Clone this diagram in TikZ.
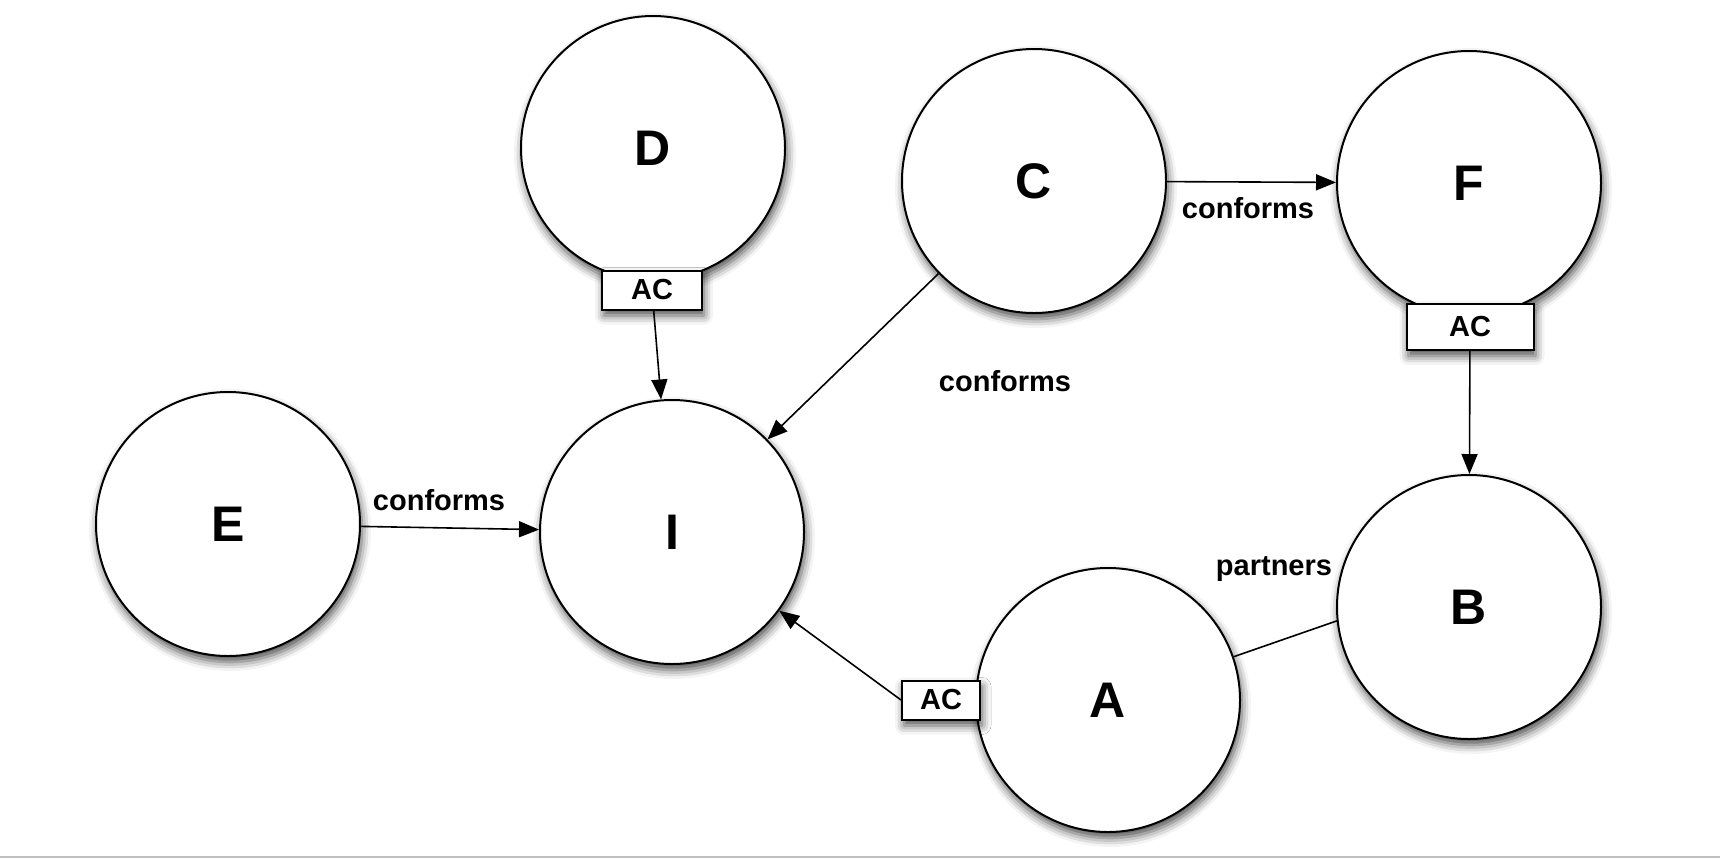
\documentclass[tikz,border=0pt]{standalone}
\usepackage{fontspec}
\setmainfont{Liberation Sans}
\usetikzlibrary{arrows.meta, shadows.blur}
\tikzset{
    party/.style={draw, circle, fill=white, line width=1pt, minimum size=132pt, inner sep=0pt,
        font=\bfseries\fontsize{25}{30}\selectfont,
        blur shadow={shadow xshift=1pt, shadow yshift=-3pt, shadow blur radius=4.5pt, shadow opacity=70}},
    acbox/.style={draw, rectangle, fill=white, line width=1pt, minimum height=19.5pt, inner sep=0pt,
        font=\bfseries\fontsize{14.5}{17}\selectfont,
        blur shadow={shadow xshift=1pt, shadow yshift=-3pt, shadow blur radius=4.5pt, shadow opacity=70}},
    conn/.style={-{Triangle[length=10pt, width=8pt]}, line width=0.8pt},
    lbl/.style={font=\bfseries\fontsize{14.5}{17}\selectfont}
}
\begin{document}
\begin{tikzpicture}[x=0.5pt, y=-0.5pt]
    \useasboundingbox (0,0) rectangle (1720,858);
    % bottom rule
    \draw[gray!50, line width=1pt] (0,857) -- (1720,857);
    % parties
    \node[party] (D) at (653,148) {D};
    \node[party] (C) at (1034,181) {C};
    \node[party] (F) at (1469,183) {F};
    \node[party] (E) at (228,524) {E};
    \node[party] (I) at (672,532) {I};
    \node[party] (B) at (1469,607) {B};
    \node[party] (A) at (1108,700) {A};
    % access points
    \node[acbox, minimum width=50pt] (acD) at (652,290) {AC};
    \node[acbox, minimum width=63.5pt, minimum height=23pt] (acF) at (1470,327) {AC};
    \node[acbox, minimum width=39pt] (acA) at (941,700) {AC};
    % links
    \draw[conn] (acD) -- (I);
    \draw[conn] (C) -- (I);
    \draw[conn] (C) -- (F);
    \draw[conn] (acF) -- (B);
    \draw[conn] (E) -- (I);
    \draw[conn] (acA.west) -- (I);
    \draw[line width=0.8pt] (A.19) -- (B.186);
    % labels
    \node[lbl] (lCF) at (1248,208) {conforms};
    \node[lbl] (lCI) at (1005,381) {conforms};
    \node[lbl] (lEI) at (439,500) {conforms};
    \node[lbl] (lAB) at (1274,569) {partners};
\end{tikzpicture}
\end{document}
